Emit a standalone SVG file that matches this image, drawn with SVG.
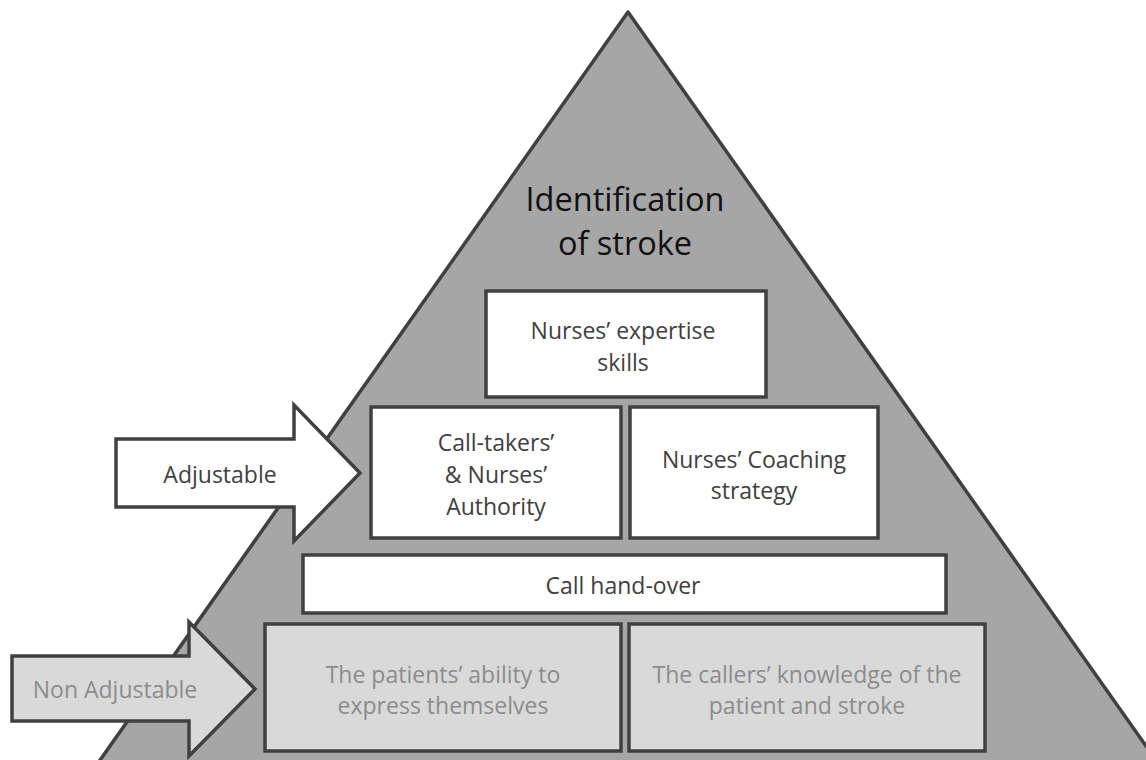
<svg xmlns="http://www.w3.org/2000/svg" width="1146" height="760" viewBox="0 0 1146 760">
<style>
.box{stroke:#404040;stroke-width:3.5;}
.w{fill:#ffffff;}
.g{fill:#d9d9d9;}
text{font-family:"Open Sans","Liberation Sans",sans-serif;text-anchor:middle;font-size:23px;fill:#404040;}
.t{fill:#8c8c8c;}
.title{font-size:32.5px;fill:#111111;}
</style>
<rect width="1146" height="760" fill="#ffffff"/>
<g id="pyramid">
<polygon points="628,12 98,763 1158,763" fill="#a6a6a6" stroke="#404040" stroke-width="3.5" stroke-linejoin="round"/>
<text class="title" x="625" y="211">Identification</text>
<text class="title" x="625" y="255">of stroke</text>
</g>
<g id="expertise">
<rect class="box w" x="486" y="291" width="280" height="106"/>
<text x="623" y="339">Nurses’ expertise</text>
<text x="623" y="371">skills</text>
</g>
<g id="authority">
<rect class="box w" x="371" y="407" width="250" height="131"/>
<text x="496" y="451">Call-takers’</text>
<text x="496" y="483">&amp; Nurses’</text>
<text x="496" y="515">Authority</text>
</g>
<g id="coaching">
<rect class="box w" x="630" y="407" width="248" height="131"/>
<text x="754" y="468">Nurses’ Coaching</text>
<text x="754" y="499">strategy</text>
</g>
<g id="handover">
<rect class="box w" x="303" y="555" width="643" height="58"/>
<text x="623" y="594">Call hand-over</text>
</g>
<g id="patients">
<rect class="box g" x="265" y="624" width="356" height="127"/>
<text class="t" x="443" y="683">The patients’ ability to</text>
<text class="t" x="443" y="714">express themselves</text>
</g>
<g id="callers">
<rect class="box g" x="629" y="624" width="356" height="127"/>
<text class="t" x="807" y="683">The callers’ knowledge of the</text>
<text class="t" x="807" y="714">patient and stroke</text>
</g>
<g id="connectors">
<g id="adjustable">
<polygon class="box w" points="116,439 294,439 294,405 360,473 294,541 294,507 116,507" stroke-linejoin="miter"/>
<text x="220" y="483">Adjustable</text>
</g>
<g id="nonadjustable">
<polygon class="box g" points="12,656 189,656 189,622 255,689 189,756 189,721 12,721" stroke-linejoin="miter"/>
<text class="t" x="115" y="698">Non Adjustable</text>
</g>
</g>
</svg>
